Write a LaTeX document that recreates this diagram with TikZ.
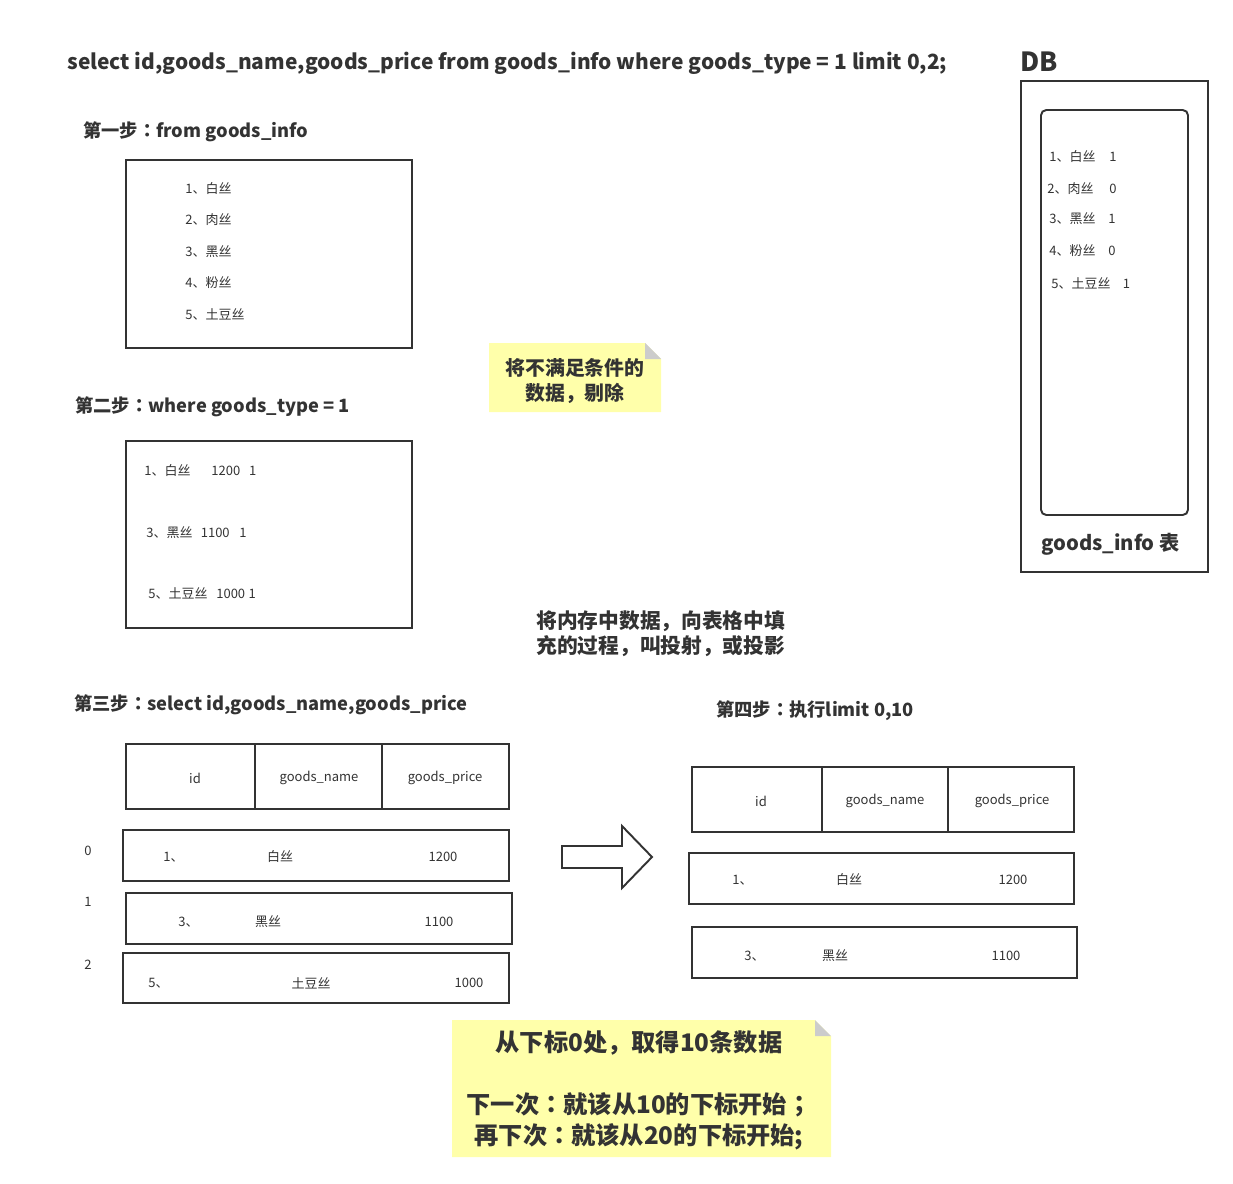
\documentclass[tikz,border=0pt]{standalone}
\usepackage{fontspec}
\setmainfont{Noto Sans CJK SC}
\newfontfamily\tcpunct{Noto Sans CJK TC}
\definecolor{ink}{HTML}{333333}
\definecolor{notebg}{HTML}{FFFFAA}
\definecolor{foldgray}{HTML}{CCCCCC}
\tikzset{
  frame/.style={draw=ink, line width=1.1pt},
  sqltext/.style={text=ink, inner sep=0pt, anchor=west, font=\bfseries\fontsize{11.9}{14}\selectfont},
  steptext/.style={text=ink, inner sep=0pt, anchor=west, font=\bfseries\fontsize{10.4}{12}\selectfont},
  rowtext/.style={text=ink, inner sep=0pt, font=\fontsize{7.4}{9}\selectfont},
  notetext/.style={text=ink, inner sep=0pt, align=center, font=\bfseries\fontsize{11.3}{14.2}\selectfont},
}

\begin{document}
\begin{tikzpicture}[x=0.02cm, y=-0.02cm]
\useasboundingbox (0,0) rectangle (1233,1183);

% the query
\node[sqltext] (sql) at (67,63) {select id,goods\_name,goods\_price from goods\_info where goods\_type = 1 limit 0,2;};

% DB
\node[sqltext, font=\bfseries\fontsize{15}{18}\selectfont] (db) at (1020,62) {DB};
\draw[frame] (1021,81) rectangle (1208,572);
\draw[frame, rounded corners=3pt] (1041,110) rectangle (1188,515);
\node[rowtext, anchor=west] (db1) at (1049,157) {1、白丝\hspace{7.8pt}1};
\node[rowtext, anchor=west] (db2) at (1047,189) {2、肉丝\hspace{9pt}0};
\node[rowtext, anchor=west] (db3) at (1049,219) {3、黑丝\hspace{7.3pt}1};
\node[rowtext, anchor=west] (db4) at (1049,251) {4、粉丝\hspace{7.3pt}0};
\node[rowtext, anchor=west] (db5) at (1051,283) {5、土豆丝\hspace{7pt}1};
\node[steptext, font=\bfseries\fontsize{11.5}{13}\selectfont] (tbl) at (1041,544) {goods\_info 表};

% step 1
\node[steptext] (step1) at (83,132) {第一步{\tcpunct ：}from goods\_info};
\draw[frame] (126,160) rectangle (412,348);
\node[rowtext, anchor=west] (a1) at (185,189) {1、白丝};
\node[rowtext, anchor=west] (a2) at (185,220) {2、肉丝};
\node[rowtext, anchor=west] (a3) at (185,252) {3、黑丝};
\node[rowtext, anchor=west] (a4) at (185,283) {4、粉丝};
\node[rowtext, anchor=west] (a5) at (185,314) {5、土豆丝};

% note 1
\fill[notebg] (489,343) -- (645,343) -- (661,359) -- (661,412) -- (489,412) -- cycle;
\fill[foldgray] (645,343) -- (645,359) -- (661,359) -- cycle;
\node[notetext] (filter) at (575,381) {将不满足条件的\\数据，剔除};

% step 2
\node[steptext] (step2) at (75,407) {第二步{\tcpunct ：}where goods\_type = 1};
\draw[frame] (126,441) rectangle (412,628);
\node[rowtext, anchor=west] (b1) at (144,471) {1、白丝\hspace{11.9pt}1200\hspace{5pt}1};
\node[rowtext, anchor=west] (b3) at (146,533) {3、黑丝\hspace{4.7pt}1100\hspace{5.5pt}1};
\node[rowtext, anchor=west] (b5) at (148,593) {5、土豆丝\hspace{5pt}1000\hspace{2pt}1};

% projection
\node[notetext, align=left, anchor=west, font=\bfseries\fontsize{11.8}{14.2}\selectfont] (project) at (536,634) {将内存中数据，向表格中填\\充的过程，叫投射，或投影};

% step 3
\node[steptext] (step3) at (74,705) {第三步{\tcpunct ：}select id,goods\_name,goods\_price};
\draw[frame] (126,744) rectangle (509,809);
\draw[frame] (255,744) -- (255,809);
\draw[frame] (382,744) -- (382,809);
\node[rowtext] (h3id) at (195,778) {id};
\node[rowtext] (h3name) at (319,778) {goods\_name};
\node[rowtext] (h3price) at (445,778) {goods\_price};

\draw[frame] (123,830) rectangle (509,881);
\draw[frame] (126,893) rectangle (512,944);
\draw[frame] (123,953) rectangle (509,1003);
\node[rowtext] (i0) at (88,851) {0};
\node[rowtext] (i1) at (88,902) {1};
\node[rowtext] (i2) at (88,965) {2};
\node[rowtext, anchor=west] (r0id) at (163,857) {1、};
\node[rowtext] (r0name) at (280,857) {白丝};
\node[rowtext] (r0price) at (443,857) {1200};
\node[rowtext, anchor=west] (r1id) at (178,922) {3、};
\node[rowtext] (r1name) at (268,922) {黑丝};
\node[rowtext] (r1price) at (439,922) {1100};
\node[rowtext, anchor=west] (r2id) at (148,983) {5、};
\node[rowtext] (r2name) at (311,983) {土豆丝};
\node[rowtext] (r2price) at (469,983) {1000};

% arrow
\draw[frame] (562,846) -- (622,846) -- (622,826) -- (652,857) -- (622,888) -- (622,868) -- (562,868) -- cycle;

% step 4
\node[steptext] (step4) at (716,711) {第四步{\tcpunct ：}执行limit 0,10};
\draw[frame] (692,767) rectangle (1074,832);
\draw[frame] (822,767) -- (822,832);
\draw[frame] (948,767) -- (948,832);
\node[rowtext] (h4id) at (761,801) {id};
\node[rowtext] (h4name) at (885,801) {goods\_name};
\node[rowtext] (h4price) at (1012,801) {goods\_price};

\draw[frame] (689,853) rectangle (1074,904);
\draw[frame] (692,927) rectangle (1077,978);
\node[rowtext, anchor=west] (s0id) at (732,880) {1、};
\node[rowtext] (s0name) at (849,880) {白丝};
\node[rowtext] (s0price) at (1013,880) {1200};
\node[rowtext, anchor=west] (s1id) at (744,956) {3、};
\node[rowtext] (s1name) at (835,956) {黑丝};
\node[rowtext] (s1price) at (1006,956) {1100};

% note 2
\fill[notebg] (452,1020) -- (815,1020) -- (831,1036) -- (831,1157) -- (452,1157) -- cycle;
\fill[foldgray] (815,1020) -- (815,1036) -- (831,1036) -- cycle;
\node[notetext, font=\bfseries\fontsize{13.8}{17.6}\selectfont] (limitnote) at (639,1090) {从下标0处，取得10条数据\\[17.6pt]下一次{\tcpunct ：}就该从10的下标开始{\tcpunct ；}\\再下次{\tcpunct ：}就该从20的下标开始;};
\end{tikzpicture}
\end{document}
